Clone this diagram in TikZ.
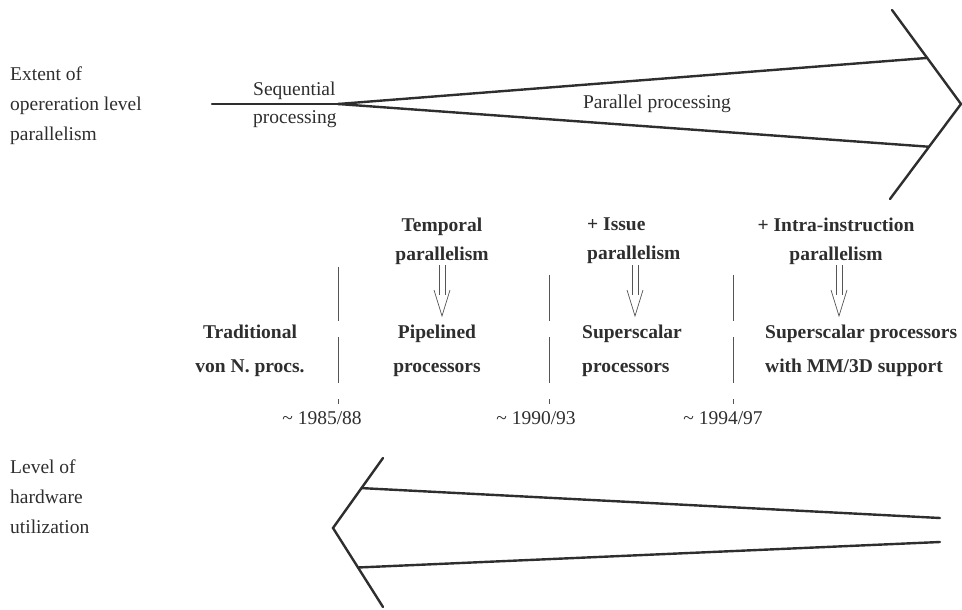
\documentclass[tikz,border=0pt]{standalone}
\usepackage{fontspec}
\setmainfont{Liberation Serif}
\usetikzlibrary{positioning,calc}
\definecolor{ink}{HTML}{2E2E2E}
\definecolor{rule}{HTML}{555555}

% open double arrow pointing down, #1 = top, #2 = tip
\newcommand\dblarr[2]{%
  \draw[dbl] ($(#1)+(-3,0)$) -- ($(#2)+(-3,-21)$);
  \draw[dbl] ($(#1)+(3,0)$) -- ($(#2)+(3,-21)$);
  \draw[dbl] ($(#2)+(-8,-26)$) -- (#2) -- ($(#2)+(8,-26)$);}

\begin{document}
\begin{tikzpicture}[x=1pt,y=-1pt,
  txt/.style={inner sep=0pt,text=ink,font=\fontsize{19.5}{30}\selectfont,align=left},
  bld/.style={inner sep=0pt,text=ink,font=\bfseries\fontsize{19.5}{29}\selectfont},
  big/.style={line width=2.4pt,draw=ink,line cap=round,line join=miter},
  sep/.style={draw=rule,line width=0.9pt},
  dbl/.style={draw=rule,line width=0.7pt}]

	\useasboundingbox (0,0) rectangle (962,610);

	% upper arrow
	\coordinate (S0) at (212,104);
	\coordinate (S1) at (338,104);
	\coordinate (A1) at (892,10);
	\coordinate (A2) at (961,104);
	\coordinate (A3) at (890,199);

	\draw[big] (S0) -- (S1);
	\draw[big] (S1) -- ($(A1)!.51!(A2)$);
	\draw[big] (S1) -- ($(A2)!.45!(A3)$);
	\draw[big] (A1) -- (A2) -- (A3);

	\node[txt,anchor=west] (ext) at (10,106) {Extent of\\opereration level\\parallelism};
	\node[txt,anchor=west,font=\fontsize{19.5}{28}\selectfont] (seq) at (253,105) {Sequential\\processing};
	\node[txt] (par) at (657,104) {Parallel processing};

	% kinds of parallelism
	\node[bld,align=center] (T1) at (442,241) {Temporal\\parallelism};
	\node[bld,align=left,anchor=west] (T2) at (587,241) {+ Issue\\parallelism};
	\node[bld,align=center] (T3) at (836,241) {+ Intra-instruction\\parallelism};

	% processor classes
	\node[bld,align=center,font=\bfseries\fontsize{19.5}{34}\selectfont] (P0) at (250,351) {Traditional\\von N. procs.};
	\node[bld,align=center,font=\bfseries\fontsize{19.5}{34}\selectfont] (P1) at (437,351) {Pipelined\\processors};
	\node[bld,align=left,anchor=west,font=\bfseries\fontsize{19.5}{34}\selectfont] (P2) at (582,351) {Superscalar\\processors};
	\node[bld,align=left,anchor=west,font=\bfseries\fontsize{19.5}{34}\selectfont] (P3) at (765,351) {Superscalar processors\\with MM/3D support};

	\coordinate (a1) at (442,265);
	\coordinate (b1) at (442,316);
	\coordinate (a2) at (635,265);
	\coordinate (b2) at (635,316);
	\coordinate (a3) at (839,265);
	\coordinate (b3) at (839,316);
	\dblarr{a1}{b1}
	\dblarr{a2}{b2}
	\dblarr{a3}{b3}

	% time borders
	\foreach \x/\t in {338/267,549/275,733/275}{
		\draw[sep] (\x,\t) -- (\x,321);
		\draw[sep] (\x,337) -- (\x,383);
		\draw[sep] (\x,399) -- (\x,404);
	}

	\node[txt] (Y1) at (322,418) {\textasciitilde\ 1985/88};
	\node[txt] (Y2) at (536,418) {\textasciitilde\ 1990/93};
	\node[txt] (Y3) at (723,418) {\textasciitilde\ 1994/97};

	% lower arrow
	\coordinate (B1) at (383,458);
	\coordinate (B2) at (333,528);
	\coordinate (B3) at (383,607);

	\draw[big] (B1) -- (B2) -- (B3);
	\draw[big] ($(B1)!.43!(B2)$) -- (940,518);
	\draw[big] ($(B2)!.5!(B3)$) -- (940,542);

	\node[txt,anchor=west] (lvl) at (10,497) {Level of\\hardware\\utilization};

\end{tikzpicture}
\end{document}
